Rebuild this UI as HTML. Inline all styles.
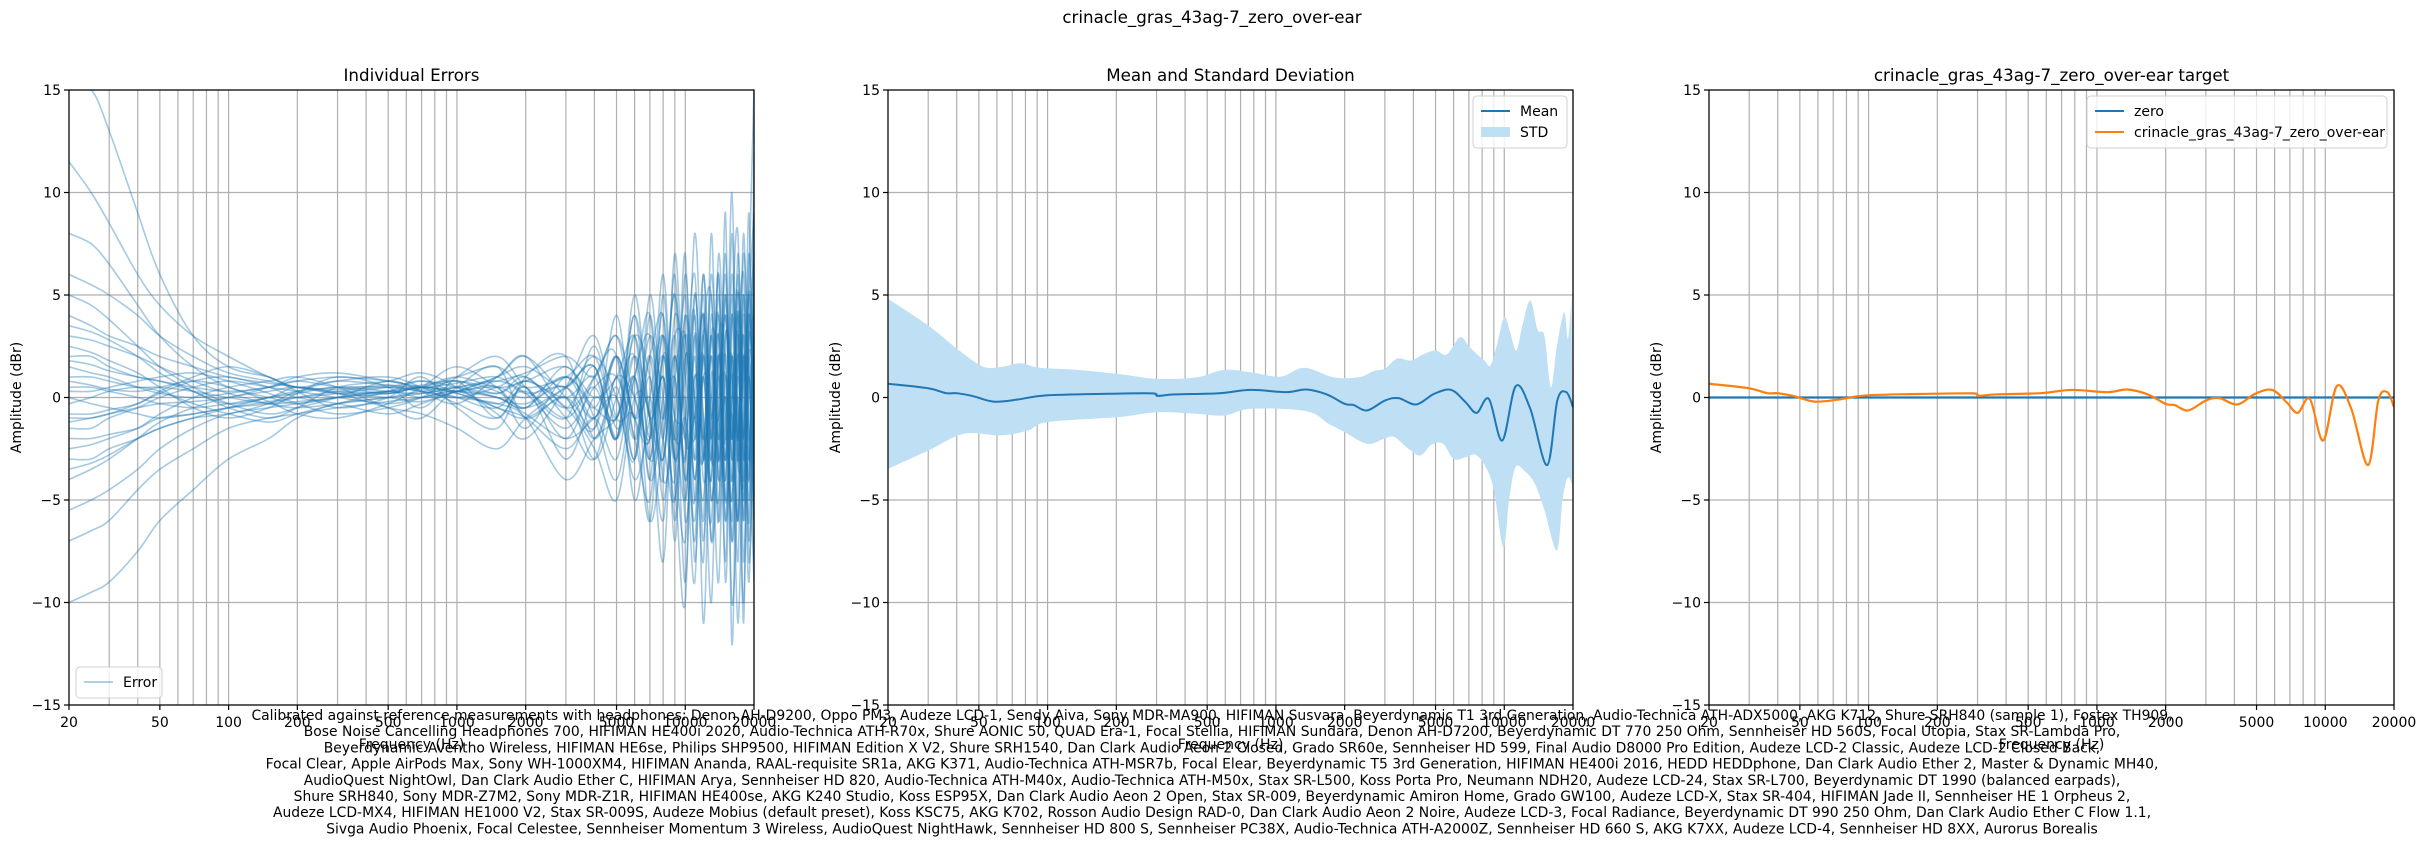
<!DOCTYPE html>
<html><head><meta charset="utf-8"><title>crinacle_gras_43ag-7_zero_over-ear</title>
<style>
html,body{margin:0;padding:0;background:#fff;}
svg{display:block;font-family:"DejaVu Sans","Liberation Sans",sans-serif;}
</style></head>
<body>
<svg id="chart" width="2425" height="846" viewBox="0 0 2425 846" xmlns="http://www.w3.org/2000/svg"></svg>
<script>
// ---------- data ----------
const errFreqs = [20,25,30,40,50,70,100,150,200,300,500,700,1000,1500,2000,3000,4000,5000,6000,7000,8000,9000,10000,11000,12000,13000,14000,15000,16000,17000,18000,19000,20000];
const err1 = [11.5,10,8.5,6,4.5,3,2,1,0.5,0.3,0.2,0.5,0.3,0,-0.5,1,-1,2,-3,4,-2,6,-5,3,-6,8,-4,5,-7,3,-2,6,15];
const err2 = [15,15,13,9,6,3,1.5,1,0.5,0.8,0.6,0.4,0.8,0.2,1,-0.5,1.5,-2,3,-4,5,-3,7,-8,4,-2,6,-9,3,8,-5,4,-3];
const err3 = [-10,-9.5,-9,-7.5,-6,-4.5,-3,-2,-1,-0.3,0,0.2,0.5,0.8,0.2,-1.5,0.5,1,-2,-5,2,-4,-10,5,-3,2,-6,9,-12,2,-4,7,-1];
const err4 = [-7,-6.5,-6,-4.5,-3.5,-2.5,-1.5,-1,-0.8,-0.5,-0.2,0,0.3,-0.5,-1,-2.5,-1,-3,1,-6,-2,3,-4,-1,-8,4,-3,2,-10,-4,3,-7,2];
const err5 = [6,5.5,5,4,3,2,1.2,0.8,0.5,0.4,0.6,0.5,1,1.5,0.5,1,2,-1,3,1,-3,4,1,-2,6,-1,3,-5,4,-2,1,5,9];
const err6 = [4,3.5,3,2.5,2,1.5,1,0.7,0.5,0.2,0.3,0.6,0.8,0.3,-0.5,0.5,1.5,-2,1,-3,3,-6,2,-1,4,-7,2,-3,6,-1,-10,2,4];
const err7 = [-3,-3,-2.5,-2,-1.5,-1,-0.5,0,0.3,0.5,0.5,0.3,0,0.5,1,-1,-3,1,-2,2,-5,1,3,-4,2,-3,5,-2,1,-8,4,-3,6];
const err8 = [2,2,1.5,1,0.8,0.5,0.3,0.5,0.8,1,0.8,0.5,0.7,1,0.2,0.5,-1,2,-1,3,0,-4,6,-2,3,-5,0,4,-2,6,-3,1,-4];
const err9 = [-1.5,-1.5,-1,-0.5,0,0.5,0.8,0.5,0.3,0,-0.3,0,0.3,0,-0.8,-2,-1,0,-4,-1,2,-3,-7,1,-2,3,-4,-1,2,-6,5,-8,0];
const err10 = [0.5,0.5,0.3,0,-0.3,-0.5,-0.3,0,0.2,0.5,0.3,0.2,0.5,0.8,1.2,2,1,3,-1,2,4,-2,1,6,-3,2,-1,7,-3,4,-2,3,7];
const err11 = [1.5,1.2,1,0.5,0.2,0,0.2,0.5,0.8,0.5,0.2,0.5,0.2,-0.3,0.3,-1,0.5,-2,2,-1,-3,2,-2,4,-4,-1,3,-6,2,-3,8,-2,3];
const err12 = [-4,-3.5,-3,-2,-1.2,-0.5,0,0.3,0.5,0.2,0,-0.2,0.3,0.5,0,1,-0.5,-1,2,-2,1,-5,3,-1,-3,5,-6,1,-2,4,-11,5,-2];
const err13 = [3,2.8,2.5,2,1.5,0.8,0.2,-0.3,-0.5,-0.3,0,0.3,0.5,0.2,0.8,0,1,-2,4,-3,0,5,-1,-6,2,-2,4,-4,8,-3,2,-5,1];
const err14 = [-2,-2,-1.8,-1.5,-1,-0.8,-0.5,-0.2,0,0.2,0.5,0.8,0.5,0,-0.3,0.5,-2,1,0,-2,3,-1,-5,2,-7,3,1,-3,5,-1,-4,9,-6];
const err15 = [8,7.5,6.5,4.5,3,1.5,0.5,0,-0.3,0,0.3,0,0.3,1,1.5,0.5,2,0,-3,5,-1,2,-3,5,-2,-6,3,2,-5,7,-2,-3,5];
const err16 = [-5.5,-5,-4.5,-3.5,-2.5,-1.5,-0.8,-0.5,-0.3,0,0.2,0.5,0.2,-0.5,-1,0,-1.5,2,-1,0,-3,3,2,-4,1,-3,6,-5,0,3,-6,2,-8];
const err17 = [1,1,0.8,0.5,0.5,0.3,0,-0.3,-0.2,0,0.3,0.5,1,0.5,0.8,1.5,0,1,3,-1,1,-2,4,0,-5,3,-2,0,-4,5,1,-4,3];
const err18 = [0,-0.3,-0.5,-0.8,-1,-0.8,-0.5,-0.3,0,0.3,0.5,0.3,0,-0.3,-1,-4,-2,-1,1,-3,2,-1,-2,-9,3,0,-3,5,-2,2,-6,4,-1];
const err19 = [2.5,2.2,1.8,1.2,0.5,-0.5,-1,-0.5,0.2,1,0.5,-0.5,1,2,0.5,-1,2.5,-1.5,1,4,-4,-1,5,-3,1,-4,7,-1,-5,2,6,-3,1];
const err20 = [-0.8,-0.8,-0.6,-0.3,0.3,1,1.5,1,0.3,-0.5,0,1,-0.5,-1.5,1,2,-2,0.5,-3,2,-1,5,-6,0,4,-2,-5,3,1,-6,2,-4,9];
const err21 = [5,4.5,3.8,2.5,1.5,0.5,-0.3,-0.8,-0.5,0,0.8,0.3,-0.3,1,2,-0.5,1,3,0,-2,6,-3,0,-7,3,5,-3,0,-6,4,0,-9,2];
const err22 = [-2.5,-2.3,-2,-1.5,-0.8,0,0.5,0.8,1,0.5,-0.5,-1,0.5,1.5,-1,0,-3,0,2,-4,-1,1,-3,8,-1,-4,2,-8,4,-2,5,-1,-5];
const err23 = [0.8,0.6,0.4,0.3,0.5,0.8,0.5,-0.2,-0.8,-1,-0.3,0.5,1.5,0.5,-0.5,1.5,-1,-4,1,3,-2,-5,2,0,-3,6,-1,-4,2,-2,7,1,-6];
const err24 = [-3.5,-3.2,-2.8,-2,-1.5,-1,-0.8,-0.3,0.3,0.8,1,0.5,-0.3,-1,0.5,-2,1,2,-5,0,3,-2,-1,4,-11,1,-2,4,-3,0,-5,3,1];
const err25 = [1.8,1.6,1.3,1,0.8,0.3,-0.5,-1,-0.5,0.5,0.8,1.2,0.5,-0.8,-2,0.5,3,-1,-1,-6,2,0,3,-3,5,-5,1,-2,10,-3,-1,5,-4];
const err26 = [-1,-1,-0.8,-0.3,0.2,0.8,1,0.5,0,-0.3,-0.8,-0.3,0.3,1,2,0,-1.5,4,-2,1,-4,7,-2,-1,2,-7,-2,6,-4,1,-3,0,4];
const err27 = [0.3,0.3,0.5,0.8,1,1.2,0.8,0.2,-0.3,-0.8,-0.5,0,0.8,-1,0.5,-3,0,-1,4,-1,-6,1,-9,3,-2,0,4,-6,0,5,-8,2,0];
const err28 = [-0.3,0,0.3,0.5,0.3,-0.3,-0.8,-1.2,-0.8,-0.3,0.3,0.8,0.3,0.5,-1.5,1,-0.5,2,-1,-2,4,-7,4,-5,1,-1,-9,3,-1,-6,2,-2,-9];
const err29 = [3.5,3.2,2.8,2,1.2,0.3,-0.3,0,0.5,0.2,-0.5,-0.8,-1.5,-2.5,-1,0.5,1.5,-2,5,-1,1,-3,-1,-5,6,-3,-1,1,-7,-2,3,-6,12];
const err30 = [-1.2,-1,-0.8,-0.5,-0.3,-0.2,0,0.5,1,1.2,0.8,0.5,0,-0.5,0.8,-0.5,-2.5,-5,0,-1,-8,2,-4,1,-1,-10,2,-3,-1,-11,-2,1,-3];
const errSeries = [err1,err2,err3,err4,err5,err6,err7,err8,err9,err10,err11,err12,err13,err14,err15,err16,err17,err18,err19,err20,err21,err22,err23,err24,err25,err26,err27,err28,err29,err30];

const meanFreqs = [20,30,36,40,47,58,74,97,183,287,303,360,565,775,1110,1360,1670,2000,2190,2510,3000,3440,4120,4930,5860,6770,7570,8560,9800,11220,13000,15400,17070,18700,20000];
const meanVals  = [0.67,0.45,0.21,0.21,0.07,-0.2,-0.1,0.1,0.18,0.2,0.08,0.15,0.21,0.37,0.26,0.39,0.15,-0.31,-0.37,-0.63,-0.15,-0.03,-0.34,0.18,0.37,-0.23,-0.75,-0.07,-2.1,0.55,-0.55,-3.3,-0.15,0.26,-0.47];

const upFreqs = [20,30,41,52,62,76,92,135,203,303,452,593,783,1050,1330,1780,2300,2700,3000,3400,3900,4400,5000,5600,6400,7000,7560,8200,8700,9300,10000,10600,11300,12000,13000,14000,15000,16000,17000,18300,19000,19700];
const upVals  = [4.81,3.51,2.29,1.51,1.48,1.67,1.45,1.35,1.15,0.91,0.99,1.35,1.22,1.02,1.45,0.99,0.99,1.3,1.4,1.9,1.8,2.1,2.29,2.1,2.94,2.5,2.13,1.8,1.56,2.6,3.92,3.2,2.29,3.5,4.73,3.3,3.0,0.5,2.5,4.15,2.86,4.81];
const loFreqs = [20,30,43,62,82,100,203,303,452,593,783,1360,1700,2000,2510,3000,3300,3800,4300,4800,5400,6000,6800,7500,8300,9000,9900,10500,11200,12300,13600,15000,17000,18000,19000,20000];
const loVals  = [-3.48,-2.59,-1.77,-1.85,-1.61,-1.2,-0.96,-0.72,-0.8,-0.88,-0.55,-0.67,-1.28,-1.69,-2.26,-2.0,-1.93,-2.5,-2.83,-2.3,-2.26,-3.0,-2.91,-2.8,-3.4,-4.5,-7.3,-5.0,-3.4,-3.6,-4.2,-5.5,-7.46,-5.0,-3.89,-4.37];

const xTickVals = [20,50,100,200,500,1000,2000,5000,10000,20000];
const yTickVals = [-15,-10,-5,0,5,10,15];
const yTickLabels = ["\u221215","\u221210","\u22125","0","5","10","15"];

const captionLines = [
"Calibrated against reference measurements with headphones: Denon AH-D9200, Oppo PM3, Audeze LCD-1, Sendy Aiva, Sony MDR-MA900, HIFIMAN Susvara, Beyerdynamic T1 3rd Generation, Audio-Technica ATH-ADX5000, AKG K712, Shure SRH840 (sample 1), Fostex TH909,",
"Bose Noise Cancelling Headphones 700, HIFIMAN HE400i 2020, Audio-Technica ATH-R70x, Shure AONIC 50, QUAD Era-1, Focal Stellia, HIFIMAN Sundara, Denon AH-D7200, Beyerdynamic DT 770 250 Ohm, Sennheiser HD 560S, Focal Utopia, Stax SR-Lambda Pro,",
"Beyerdynamic Aventho Wireless, HIFIMAN HE6se, Philips SHP9500, HIFIMAN Edition X V2, Shure SRH1540, Dan Clark Audio Aeon 2 Closed, Grado SR60e, Sennheiser HD 599, Final Audio D8000 Pro Edition, Audeze LCD-2 Classic, Audeze LCD-2 Closed Back,",
"Focal Clear, Apple AirPods Max, Sony WH-1000XM4, HIFIMAN Ananda, RAAL-requisite SR1a, AKG K371, Audio-Technica ATH-MSR7b, Focal Elear, Beyerdynamic T5 3rd Generation, HIFIMAN HE400i 2016, HEDD HEDDphone, Dan Clark Audio Ether 2, Master & Dynamic MH40,",
"AudioQuest NightOwl, Dan Clark Audio Ether C, HIFIMAN Arya, Sennheiser HD 820, Audio-Technica ATH-M40x, Audio-Technica ATH-M50x, Stax SR-L500, Koss Porta Pro, Neumann NDH20, Audeze LCD-24, Stax SR-L700, Beyerdynamic DT 1990 (balanced earpads),",
"Shure SRH840, Sony MDR-Z7M2, Sony MDR-Z1R, HIFIMAN HE400se, AKG K240 Studio, Koss ESP95X, Dan Clark Audio Aeon 2 Open, Stax SR-009, Beyerdynamic Amiron Home, Grado GW100, Audeze LCD-X, Stax SR-404, HIFIMAN Jade II, Sennheiser HE 1 Orpheus 2,",
"Audeze LCD-MX4, HIFIMAN HE1000 V2, Stax SR-009S, Audeze Mobius (default preset), Koss KSC75, AKG K702, Rosson Audio Design RAD-0, Dan Clark Audio Aeon 2 Noire, Audeze LCD-3, Focal Radiance, Beyerdynamic DT 990 250 Ohm, Dan Clark Audio Ether C Flow 1.1,",
"Sivga Audio Phoenix, Focal Celestee, Sennheiser Momentum 3 Wireless, AudioQuest NightHawk, Sennheiser HD 800 S, Sennheiser PC38X, Audio-Technica ATH-A2000Z, Sennheiser HD 660 S, AKG K7XX, Audeze LCD-4, Sennheiser HD 8XX, Aurorus Borealis"
];

// ---------- layout ----------
const NS = "http://www.w3.org/2000/svg";
const svg = document.getElementById("chart");
const TOP = 90, BOT = 705, W = 685;
const panels = [{left:69, title:"Individual Errors", name:"errors-panel"},
                {left:888, title:"Mean and Standard Deviation", name:"mean-std-panel"},
                {left:1709, title:"crinacle_gras_43ag-7_zero_over-ear target", name:"target-panel"}];
const BLUE = "#1f77b4", ORANGE = "#ff7f0e";

function el(tag, attrs, parent){
  const e = document.createElementNS(NS, tag);
  for (const k in attrs) e.setAttribute(k, attrs[k]);
  (parent||svg).appendChild(e);
  return e;
}
function xScale(p, f){ return p.left + W * (Math.log10(f) - Math.log10(20)) / 3; }
function yScale(v){ return TOP + (15 - v) / 30 * (BOT - TOP); }

function smoothPath(pts){
  if (pts.length < 2) return "";
  let d = "M" + pts[0][0].toFixed(2) + "," + pts[0][1].toFixed(2);
  for (let i = 0; i < pts.length - 1; i++){
    const p0 = pts[Math.max(0,i-1)], p1 = pts[i], p2 = pts[i+1], p3 = pts[Math.min(pts.length-1,i+2)];
    const c1x = p1[0] + (p2[0]-p0[0])/6, c1y = p1[1] + (p2[1]-p0[1])/6;
    const c2x = p2[0] - (p3[0]-p1[0])/6, c2y = p2[1] - (p3[1]-p1[1])/6;
    d += "C" + c1x.toFixed(2)+","+c1y.toFixed(2)+" "+c2x.toFixed(2)+","+c2y.toFixed(2)+" "+p2[0].toFixed(2)+","+p2[1].toFixed(2);
  }
  return d;
}

// suptitle
const sup = el("text", {x:1212, y:23, "text-anchor":"middle", "font-size":"16.7"});
sup.textContent = "crinacle_gras_43ag-7_zero_over-ear";



const defs = el("defs", {});

panels.forEach((p, pi) => {
  const g = el("g", {});
  
  

  const cp = el("clipPath", {id:"clip"+pi}, defs);
  el("rect", {x:p.left, y:TOP, width:W, height:BOT-TOP}, cp);

  // grid
  const grid = el("g", {stroke:"#b0b0b0", "stroke-width":"1.2"}, g);
  
  
  for (let dec = 10; dec <= 10000; dec *= 10){
    for (let m = 1; m <= 9; m++){
      const f = dec * m;
      if (f < 20 || f > 20000) continue;
      const x = xScale(p, f);
      el("line", {x1:x, x2:x, y1:TOP, y2:BOT}, grid);
    }
  }
  el("line", {x1:xScale(p,20000), x2:xScale(p,20000), y1:TOP, y2:BOT}, grid);
  yTickVals.forEach(v => { const y = yScale(v); el("line", {x1:p.left, x2:p.left+W, y1:y, y2:y}, grid); });

  const plot = el("g", {"clip-path":"url(#clip"+pi+")"}, g);

  if (pi === 0){
    errSeries.forEach((s, si) => {
      const pts = errFreqs.map((f, i) => [xScale(p, f), yScale(s[i])]);
      const path = el("path", {d:smoothPath(pts), fill:"none", stroke:BLUE, "stroke-opacity":"0.4", "stroke-width":"1.6"}, plot);
      
      
    });
  }
  if (pi === 1){
    const up = upFreqs.map((f,i) => [xScale(p,f), yScale(upVals[i])]);
    const lo = loFreqs.map((f,i) => [xScale(p,f), yScale(loVals[i])]).reverse();
    const dUp = smoothPath(up);
    const dLo = smoothPath(lo).replace(/^M/, "L");
    const band = el("path", {d:dUp + dLo + "Z", fill:"#bfdff5", stroke:"none"}, plot);
    
    
    const pts = meanFreqs.map((f,i) => [xScale(p,f), yScale(meanVals[i])]);
    const ml = el("path", {d:smoothPath(pts), fill:"none", stroke:BLUE, "stroke-width":"2"}, plot);
    
    
  }
  if (pi === 2){
    const zl = el("line", {x1:p.left, x2:p.left+W, y1:yScale(0), y2:yScale(0), stroke:BLUE, "stroke-width":"2.2"}, plot);
    
    
    const pts = meanFreqs.map((f,i) => [xScale(p,f), yScale(meanVals[i])]);
    const tl = el("path", {d:smoothPath(pts), fill:"none", stroke:ORANGE, "stroke-width":"2.2"}, plot);
    
    
  }

  // frame
  const frame = el("rect", {x:p.left, y:TOP, width:W, height:BOT-TOP, fill:"none", stroke:"#000", "stroke-width":"1.2"}, g);
  
  

  // ticks
  const ticks = el("g", {"font-size":"14"}, g);
  
  
  xTickVals.forEach(f => {
    const x = xScale(p, f);
    el("line", {x1:x, x2:x, y1:BOT, y2:BOT+5, stroke:"#000", "stroke-width":"1.2"}, ticks);
    const t = el("text", {x:x, y:BOT+22, "text-anchor":"middle"}, ticks);
    t.textContent = String(f);
  });
  yTickVals.forEach((v, i) => {
    const y = yScale(v);
    el("line", {x1:p.left-5, x2:p.left, y1:y, y2:y, stroke:"#000", "stroke-width":"1.2"}, ticks);
    const t = el("text", {x:p.left-8, y:y+5, "text-anchor":"end"}, ticks);
    t.textContent = yTickLabels[i];
  });

  const title = el("text", {x:p.left+W/2, y:81, "text-anchor":"middle", "font-size":"16.7"}, g);
  title.textContent = p.title;
  
  

  const xl = el("text", {x:p.left+W/2, y:749, "text-anchor":"middle", "font-size":"14"}, g);
  xl.textContent = "Frequency (Hz)";
  
  

  const yl = el("text", {x:0, y:0, "text-anchor":"middle", "font-size":"14", transform:"translate("+(p.left-48)+","+((TOP+BOT)/2)+") rotate(-90)"}, g);
  yl.textContent = "Amplitude (dBr)";
  
  
});

// legends
function legend(x, y, w, entries, name){
  const g = el("g", {"font-size":"14"});
  
  
  el("rect", {x:x, y:y, width:w, height:entries.length*21+10, rx:4, fill:"#fff", "fill-opacity":"0.8", stroke:"#d0d0d0"}, g);
  entries.forEach((e, i) => {
    const cy = y + 15 + i*21;
    if (e.patch) el("rect", {x:x+8, y:cy-5, width:29, height:10, fill:e.color}, g);
    else el("line", {x1:x+8, x2:x+37, y1:cy, y2:cy, stroke:e.color, "stroke-width":"2", "stroke-opacity":e.op||1}, g);
    const t = el("text", {x:x+47, y:cy+5}, g);
    t.textContent = e.label;
  });
}
legend(76, 667, 86, [{label:"Error", color:BLUE, op:0.35}], "error-legend");
legend(1473, 96, 94, [{label:"Mean", color:BLUE},{label:"STD", color:"#bfdff5", patch:true}], "mean-std-legend");
legend(2087, 96, 300, [{label:"zero", color:BLUE},{label:"crinacle_gras_43ag-7_zero_over-ear", color:ORANGE}], "target-legend");

// caption
const cap = el("g", {"font-size":"13.9", "text-anchor":"middle"});


captionLines.forEach((line, i) => {
  const t = el("text", {x:1212, y:720 + i*16.2}, cap);
  t.textContent = line;
});
</script>
</body></html>
